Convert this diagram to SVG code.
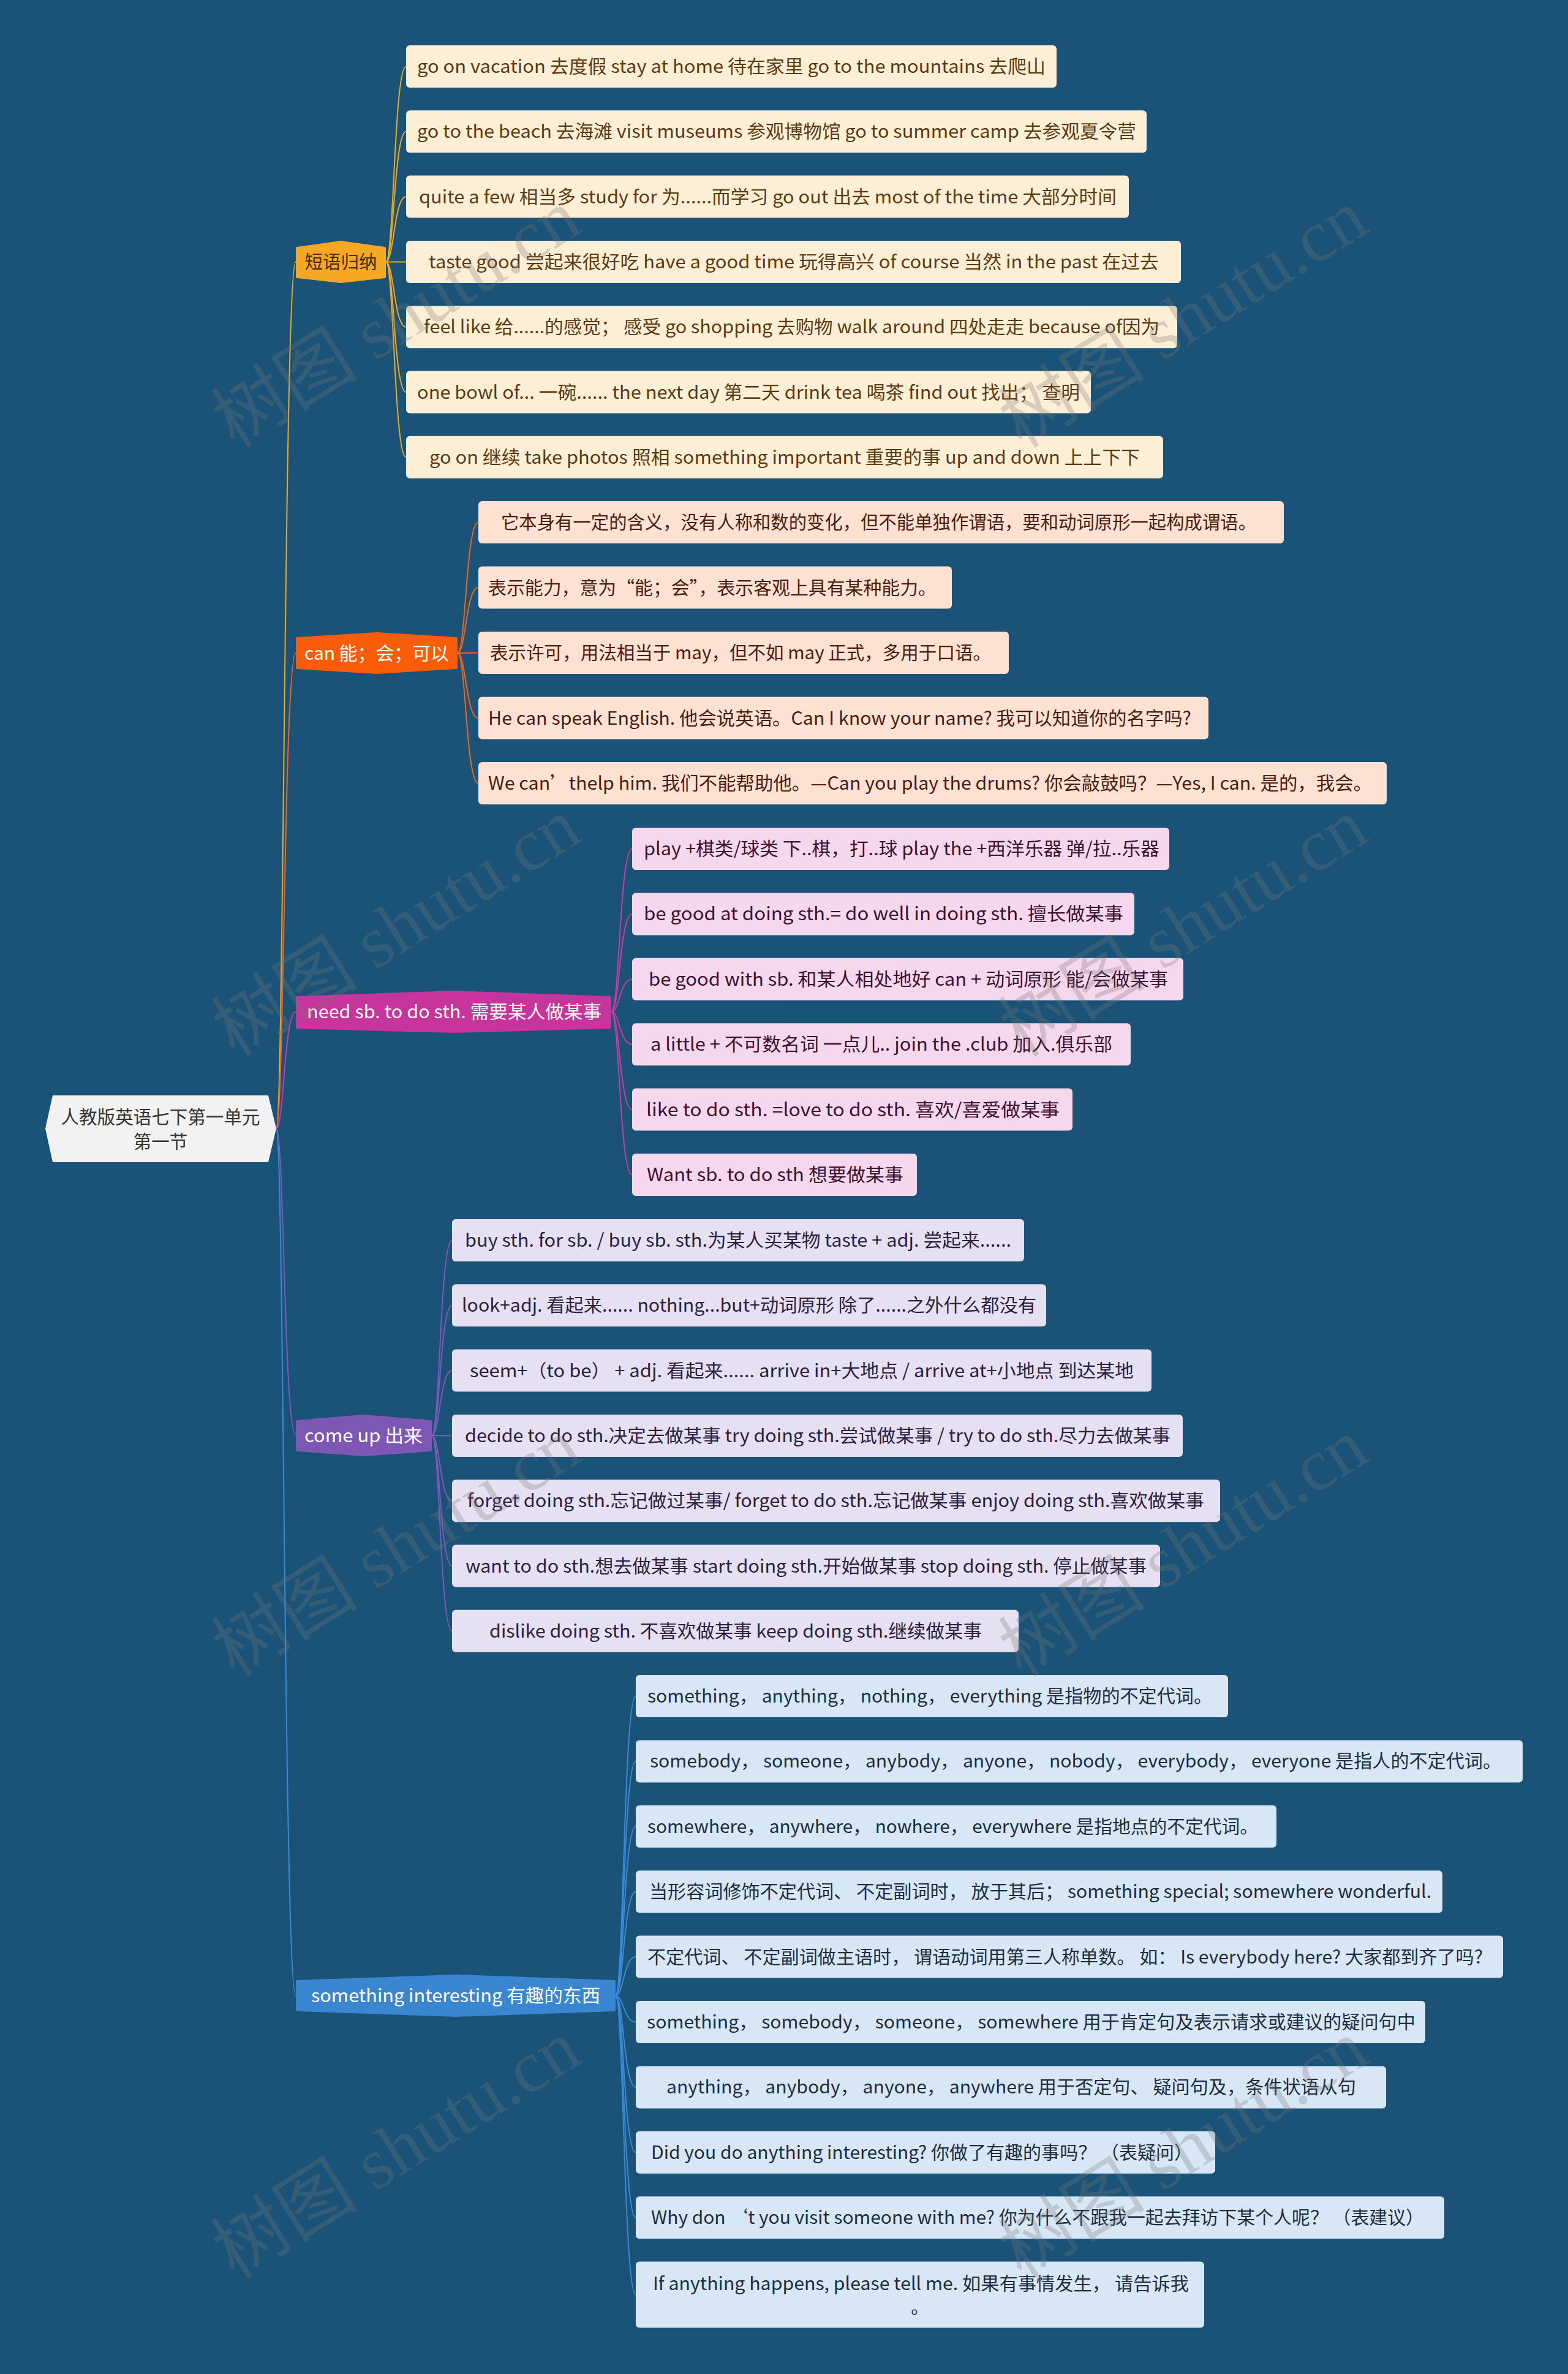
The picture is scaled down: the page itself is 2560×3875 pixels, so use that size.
<svg xmlns="http://www.w3.org/2000/svg" width="2560" height="3875" viewBox="0 0 2560 3875">
<style>
.t{font-family:"Noto Sans CJK SC","Noto Sans",sans-serif;font-size:29.5px;text-anchor:middle}
.c{fill:none;stroke-width:2}
.c1{stroke:#f0a81e}.c2{stroke:#f0641e}.c3{stroke:#c83ca0}.c4{stroke:#7d5ab8}.c5{stroke:#3a8ad8}
.l1{fill:#fdefd5}.l2{fill:#fde1d2}.l3{fill:#f6d8ee}.l4{fill:#e6e1f2}.l5{fill:#d7e7f5}
.x1{fill:#5c3a10}.x2{fill:#4a1c0c}.x3{fill:#3d1030}.x4{fill:#2a2040}.x5{fill:#1c2d40}
.wm{font-family:"Liberation Serif","Noto Sans CJK SC",serif;font-size:120px;fill:#777;opacity:.28;text-anchor:middle}
</style>
<rect x="0" y="0" width="2560" height="3875" fill="#1a5377"/>
<g id="connectors">
<path class="c c1" d="M451 1842 C463.8 1842 463.8 427.5 483 427.5"/>
<path class="c c2" d="M451 1842 C463.8 1842 463.8 1066 483 1066"/>
<path class="c c3" d="M451 1842 C463.8 1842 463.8 1651.5 483 1651.5"/>
<path class="c c4" d="M451 1842 C463.8 1842 463.8 2343 483 2343"/>
<path class="c c5" d="M451 1842 C463.8 1842 463.8 3257.5 483 3257.5"/>
<path class="c c1" d="M630 427.5 C643.2 427.5 643.2 108.5 663 108.5"/>
<path class="c c1" d="M630 427.5 C643.2 427.5 643.2 214.8 663 214.8"/>
<path class="c c1" d="M630 427.5 C643.2 427.5 643.2 321.1 663 321.1"/>
<path class="c c1" d="M630 427.5 C643.2 427.5 643.2 427.4 663 427.4"/>
<path class="c c1" d="M630 427.5 C643.2 427.5 643.2 533.7 663 533.7"/>
<path class="c c1" d="M630 427.5 C643.2 427.5 643.2 640 663 640"/>
<path class="c c1" d="M630 427.5 C643.2 427.5 643.2 746.3 663 746.3"/>
<path class="c c2" d="M747 1066 C760.6 1066 760.6 852.5 781 852.5"/>
<path class="c c2" d="M747 1066 C760.6 1066 760.6 959 781 959"/>
<path class="c c2" d="M747 1066 C760.6 1066 760.6 1065.5 781 1065.5"/>
<path class="c c2" d="M747 1066 C760.6 1066 760.6 1172 781 1172"/>
<path class="c c2" d="M747 1066 C760.6 1066 760.6 1278.5 781 1278.5"/>
<path class="c c3" d="M998 1651.5 C1011.6 1651.5 1011.6 1385.5 1032 1385.5"/>
<path class="c c3" d="M998 1651.5 C1011.6 1651.5 1011.6 1491.9 1032 1491.9"/>
<path class="c c3" d="M998 1651.5 C1011.6 1651.5 1011.6 1598.3 1032 1598.3"/>
<path class="c c3" d="M998 1651.5 C1011.6 1651.5 1011.6 1704.7 1032 1704.7"/>
<path class="c c3" d="M998 1651.5 C1011.6 1651.5 1011.6 1811.1 1032 1811.1"/>
<path class="c c3" d="M998 1651.5 C1011.6 1651.5 1011.6 1917.5 1032 1917.5"/>
<path class="c c4" d="M705 2343 C718.2 2343 718.2 2024.5 738 2024.5"/>
<path class="c c4" d="M705 2343 C718.2 2343 718.2 2130.8 738 2130.8"/>
<path class="c c4" d="M705 2343 C718.2 2343 718.2 2237.1 738 2237.1"/>
<path class="c c4" d="M705 2343 C718.2 2343 718.2 2343.4 738 2343.4"/>
<path class="c c4" d="M705 2343 C718.2 2343 718.2 2449.7 738 2449.7"/>
<path class="c c4" d="M705 2343 C718.2 2343 718.2 2556 738 2556"/>
<path class="c c4" d="M705 2343 C718.2 2343 718.2 2662.3 738 2662.3"/>
<path class="c c5" d="M1005 3257.5 C1018.2 3257.5 1018.2 2768.5 1038 2768.5"/>
<path class="c c5" d="M1005 3257.5 C1018.2 3257.5 1018.2 2874.9 1038 2874.9"/>
<path class="c c5" d="M1005 3257.5 C1018.2 3257.5 1018.2 2981.3 1038 2981.3"/>
<path class="c c5" d="M1005 3257.5 C1018.2 3257.5 1018.2 3087.7 1038 3087.7"/>
<path class="c c5" d="M1005 3257.5 C1018.2 3257.5 1018.2 3194.1 1038 3194.1"/>
<path class="c c5" d="M1005 3257.5 C1018.2 3257.5 1018.2 3300.5 1038 3300.5"/>
<path class="c c5" d="M1005 3257.5 C1018.2 3257.5 1018.2 3406.9 1038 3406.9"/>
<path class="c c5" d="M1005 3257.5 C1018.2 3257.5 1018.2 3513.3 1038 3513.3"/>
<path class="c c5" d="M1005 3257.5 C1018.2 3257.5 1018.2 3619.7 1038 3619.7"/>
<path class="c c5" d="M1005 3257.5 C1018.2 3257.5 1018.2 3745.6 1038 3745.6"/>
</g>
<g id="root">
<polygon points="74,1842 86,1788 438,1788 451,1842 438,1897 86,1897" fill="#f2f2f2"/>
<text class="t" x="262" y="1833.5" fill="#333" textLength="325" lengthAdjust="spacingAndGlyphs">人教版英语七下第一单元</text>
<text class="t" x="262" y="1873.5" fill="#333">第一节</text>
</g>
<g id="b1">
<polygon points="485,405 556.5,395 628,405 628,452 556.5,460 485,452" fill="#f7a823" stroke="#f7a823" stroke-width="4" stroke-linejoin="round"/>
<text class="t" x="556.5" y="438" fill="#4a2c00" textLength="118" lengthAdjust="spacingAndGlyphs">短语归纳</text>
</g>
<g id="b2">
<polygon points="485,1042 615,1034 745,1042 745,1090 615,1098 485,1090" fill="#fa5d0a" stroke="#fa5d0a" stroke-width="4" stroke-linejoin="round"/>
<text class="t" x="615" y="1076.5" fill="#fff" textLength="236" lengthAdjust="spacingAndGlyphs">can 能；会；可以</text>
</g>
<g id="b3">
<polygon points="485,1628 740.5,1619 996,1628 996,1677 740.5,1684 485,1677" fill="#c7349b" stroke="#c7349b" stroke-width="4" stroke-linejoin="round"/>
<text class="t" x="741.5" y="1662" fill="#fff" textLength="481" lengthAdjust="spacingAndGlyphs">need sb. to do sth. 需要某人做某事</text>
</g>
<g id="b4">
<polygon points="485,2320 594,2311 703,2320 703,2367 594,2375 485,2367" fill="#7c57b3" stroke="#7c57b3" stroke-width="4" stroke-linejoin="round"/>
<text class="t" x="593.5" y="2353.5" fill="#fff" textLength="193" lengthAdjust="spacingAndGlyphs">come up 出来</text>
</g>
<g id="b5">
<polygon points="485,3234 744,3225 1003,3234 1003,3281 744,3290 485,3281" fill="#3a86d1" stroke="#3a86d1" stroke-width="4" stroke-linejoin="round"/>
<text class="t" x="744" y="3268" fill="#fff" textLength="472" lengthAdjust="spacingAndGlyphs">something interesting 有趣的东西</text>
</g>
<g id="b1-leaves">
<g id="n1-1"><rect class="l1" x="663" y="74" width="1062" height="69" rx="6"/><text class="t x1" x="1194" y="119" textLength="1026" lengthAdjust="spacingAndGlyphs">go on vacation 去度假 stay at home 待在家里 go to the mountains 去爬山</text></g>
<g id="n1-2"><rect class="l1" x="663" y="180.3" width="1209" height="69" rx="6"/><text class="t x1" x="1268" y="225.3" textLength="1174" lengthAdjust="spacingAndGlyphs">go to the beach 去海滩 visit museums 参观博物馆 go to summer camp 去参观夏令营</text></g>
<g id="n1-3"><rect class="l1" x="663" y="286.6" width="1180" height="69" rx="6"/><text class="t x1" x="1253.5" y="331.6" textLength="1139" lengthAdjust="spacingAndGlyphs">quite a few 相当多 study for 为......而学习 go out 出去 most of the time 大部分时间</text></g>
<g id="n1-4"><rect class="l1" x="663" y="392.9" width="1265" height="69" rx="6"/><text class="t x1" x="1296" y="437.9" textLength="1192" lengthAdjust="spacingAndGlyphs">taste good 尝起来很好吃 have a good time 玩得高兴 of course 当然 in the past 在过去</text></g>
<g id="n1-5"><rect class="l1" x="663" y="499.2" width="1259" height="69" rx="6"/><text class="t x1" x="1292.5" y="544.2" textLength="1201" lengthAdjust="spacingAndGlyphs">feel like 给......的感觉；  感受 go shopping 去购物 walk around 四处走走 because of因为</text></g>
<g id="n1-6"><rect class="l1" x="663" y="605.5" width="1118" height="69" rx="6"/><text class="t x1" x="1222" y="650.5" textLength="1082" lengthAdjust="spacingAndGlyphs">one bowl of... 一碗...... the next day 第二天 drink tea 喝茶 find out 找出；  查明</text></g>
<g id="n1-7"><rect class="l1" x="663" y="711.8" width="1236" height="69" rx="6"/><text class="t x1" x="1281" y="756.8" textLength="1160" lengthAdjust="spacingAndGlyphs">go on 继续 take photos 照相 something important 重要的事 up and down 上上下下</text></g>
</g>
<g id="b2-leaves">
<g id="n2-1"><rect class="l2" x="781" y="818" width="1315" height="69" rx="6"/><text class="t x2" x="1434.5" y="863" textLength="1233" lengthAdjust="spacingAndGlyphs">它本身有一定的含义，没有人称和数的变化，但不能单独作谓语，要和动词原形一起构成谓语。</text></g>
<g id="n2-2"><rect class="l2" x="781" y="924.5" width="773" height="69" rx="6"/><text class="t x2" x="1163" y="969.5" textLength="732" lengthAdjust="spacingAndGlyphs">表示能力，意为“能；会”，表示客观上具有某种能力。</text></g>
<g id="n2-3"><rect class="l2" x="781" y="1031" width="866" height="69" rx="6"/><text class="t x2" x="1209" y="1076" textLength="818" lengthAdjust="spacingAndGlyphs">表示许可，用法相当于 may，但不如 may 正式，多用于口语。</text></g>
<g id="n2-4"><rect class="l2" x="781" y="1137.5" width="1192" height="69" rx="6"/><text class="t x2" x="1371" y="1182.5" textLength="1148" lengthAdjust="spacingAndGlyphs">He can speak English. 他会说英语。Can I know your name? 我可以知道你的名字吗?</text></g>
<g id="n2-5"><rect class="l2" x="781" y="1244" width="1483" height="69" rx="6"/><text class="t x2" x="1518.5" y="1289" textLength="1443" lengthAdjust="spacingAndGlyphs">We can’thelp him. 我们不能帮助他。—Can you play the drums? 你会敲鼓吗？—Yes, I can. 是的，我会。</text></g>
</g>
<g id="b3-leaves">
<g id="n3-1"><rect class="l3" x="1032" y="1351" width="877" height="69" rx="6"/><text class="t x3" x="1472" y="1396" textLength="842" lengthAdjust="spacingAndGlyphs">play +棋类/球类 下..棋，打..球  play the +西洋乐器 弹/拉..乐器</text></g>
<g id="n3-2"><rect class="l3" x="1032" y="1457.4" width="820" height="69" rx="6"/><text class="t x3" x="1442.5" y="1502.4" textLength="783" lengthAdjust="spacingAndGlyphs">be good at doing sth.= do well in doing sth. 擅长做某事</text></g>
<g id="n3-3"><rect class="l3" x="1032" y="1563.8" width="900" height="69" rx="6"/><text class="t x3" x="1483" y="1608.8" textLength="848" lengthAdjust="spacingAndGlyphs">be good with sb. 和某人相处地好  can + 动词原形 能/会做某事</text></g>
<g id="n3-4"><rect class="l3" x="1032" y="1670.2" width="814" height="69" rx="6"/><text class="t x3" x="1439" y="1715.2" textLength="754" lengthAdjust="spacingAndGlyphs">a little + 不可数名词 一点儿..  join the .club 加入.俱乐部</text></g>
<g id="n3-5"><rect class="l3" x="1032" y="1776.6" width="719" height="69" rx="6"/><text class="t x3" x="1392.5" y="1821.6" textLength="675" lengthAdjust="spacingAndGlyphs">like to do sth. =love to do sth.   喜欢/喜爱做某事</text></g>
<g id="n3-6"><rect class="l3" x="1032" y="1883" width="465" height="69" rx="6"/><text class="t x3" x="1265.5" y="1928" textLength="419" lengthAdjust="spacingAndGlyphs">Want sb. to do sth 想要做某事</text></g>
</g>
<g id="b4-leaves">
<g id="n4-1"><rect class="l4" x="738" y="1990" width="934" height="69" rx="6"/><text class="t x4" x="1205" y="2035" textLength="892" lengthAdjust="spacingAndGlyphs">buy sth. for sb. / buy sb. sth.为某人买某物 taste + adj. 尝起来......</text></g>
<g id="n4-2"><rect class="l4" x="738" y="2096.3" width="970" height="69" rx="6"/><text class="t x4" x="1223" y="2141.3" textLength="938" lengthAdjust="spacingAndGlyphs">look+adj. 看起来...... nothing...but+动词原形 除了......之外什么都没有</text></g>
<g id="n4-3"><rect class="l4" x="738" y="2202.6" width="1142" height="69" rx="6"/><text class="t x4" x="1309" y="2247.6" textLength="1084" lengthAdjust="spacingAndGlyphs">seem+（to be） + adj. 看起来...... arrive in+大地点 / arrive at+小地点 到达某地</text></g>
<g id="n4-4"><rect class="l4" x="738" y="2308.9" width="1193" height="69" rx="6"/><text class="t x4" x="1335" y="2353.9" textLength="1152" lengthAdjust="spacingAndGlyphs">decide to do sth.决定去做某事 try doing sth.尝试做某事 / try to do sth.尽力去做某事</text></g>
<g id="n4-5"><rect class="l4" x="738" y="2415.2" width="1254" height="69" rx="6"/><text class="t x4" x="1364.5" y="2460.2" textLength="1203" lengthAdjust="spacingAndGlyphs">forget doing sth.忘记做过某事/ forget to do sth.忘记做某事 enjoy doing sth.喜欢做某事</text></g>
<g id="n4-6"><rect class="l4" x="738" y="2521.5" width="1156" height="69" rx="6"/><text class="t x4" x="1316" y="2566.5" textLength="1112" lengthAdjust="spacingAndGlyphs">want to do sth.想去做某事 start doing sth.开始做某事 stop doing sth. 停止做某事</text></g>
<g id="n4-7"><rect class="l4" x="738" y="2627.8" width="925" height="69" rx="6"/><text class="t x4" x="1201" y="2672.8" textLength="804" lengthAdjust="spacingAndGlyphs">dislike doing sth. 不喜欢做某事 keep doing sth.继续做某事</text></g>
</g>
<g id="b5-leaves">
<g id="n5-1"><rect class="l5" x="1038" y="2734" width="967" height="69" rx="6"/><text class="t x5" x="1518" y="2779" textLength="922" lengthAdjust="spacingAndGlyphs">something， anything， nothing， everything 是指物的不定代词。</text></g>
<g id="n5-2"><rect class="l5" x="1038" y="2840.4" width="1448" height="69" rx="6"/><text class="t x5" x="1756" y="2885.4" textLength="1390" lengthAdjust="spacingAndGlyphs">somebody， someone， anybody， anyone， nobody， everybody， everyone 是指人的不定代词。</text></g>
<g id="n5-3"><rect class="l5" x="1038" y="2946.8" width="1046" height="69" rx="6"/><text class="t x5" x="1555.5" y="2991.8" textLength="997" lengthAdjust="spacingAndGlyphs">somewhere， anywhere， nowhere， everywhere 是指地点的不定代词。</text></g>
<g id="n5-4"><rect class="l5" x="1038" y="3053.2" width="1317" height="69" rx="6"/><text class="t x5" x="1698.5" y="3098.2" textLength="1277" lengthAdjust="spacingAndGlyphs">当形容词修饰不定代词、 不定副词时， 放于其后； something special; somewhere wonderful.</text></g>
<g id="n5-5"><rect class="l5" x="1038" y="3159.6" width="1416" height="69" rx="6"/><text class="t x5" x="1739" y="3204.6" textLength="1364" lengthAdjust="spacingAndGlyphs">不定代词、 不定副词做主语时， 谓语动词用第三人称单数。 如： Is everybody here? 大家都到齐了吗?</text></g>
<g id="n5-6"><rect class="l5" x="1038" y="3266" width="1289" height="69" rx="6"/><text class="t x5" x="1683.5" y="3311" textLength="1255" lengthAdjust="spacingAndGlyphs">something， somebody， someone， somewhere 用于肯定句及表示请求或建议的疑问句中</text></g>
<g id="n5-7"><rect class="l5" x="1038" y="3372.4" width="1225" height="69" rx="6"/><text class="t x5" x="1651" y="3417.4" textLength="1126" lengthAdjust="spacingAndGlyphs">anything， anybody， anyone， anywhere 用于否定句、 疑问句及，条件状语从句</text></g>
<g id="n5-8"><rect class="l5" x="1038" y="3478.8" width="946" height="69" rx="6"/><text class="t x5" x="1505" y="3523.8" textLength="884" lengthAdjust="spacingAndGlyphs">Did you do anything interesting? 你做了有趣的事吗？ （表疑问）</text></g>
<g id="n5-9"><rect class="l5" x="1038" y="3585.2" width="1320" height="69" rx="6"/><text class="t x5" x="1694" y="3630.2" textLength="1262" lengthAdjust="spacingAndGlyphs">Why don ‘t you visit someone with me? 你为什么不跟我一起去拜访下某个人呢？ （表建议）</text></g>
<g id="n5-10"><rect class="l5" x="1038" y="3691.6" width="928" height="108" rx="6"/><text class="t x5" x="1503.5" y="3737.5" textLength="875" lengthAdjust="spacingAndGlyphs">If anything happens, please tell me. 如果有事情发生， 请告诉我</text><text class="t x5" x="1502" y="3776">。</text></g>
</g>
<g id="watermarks">
<text class="wm" x="650" y="560" transform="rotate(-32 650 525)">树图 shutu.cn</text>
<text class="wm" x="1935" y="560" transform="rotate(-32 1935 525)">树图 shutu.cn</text>
<text class="wm" x="650" y="1554" transform="rotate(-32 650 1519)">树图 shutu.cn</text>
<text class="wm" x="1935" y="1554" transform="rotate(-32 1935 1519)">树图 shutu.cn</text>
<text class="wm" x="650" y="2566" transform="rotate(-32 650 2531)">树图 shutu.cn</text>
<text class="wm" x="1935" y="2566" transform="rotate(-32 1935 2531)">树图 shutu.cn</text>
<text class="wm" x="650" y="3548" transform="rotate(-32 650 3513)">树图 shutu.cn</text>
<text class="wm" x="1935" y="3548" transform="rotate(-32 1935 3513)">树图 shutu.cn</text>
</g>
</svg>
